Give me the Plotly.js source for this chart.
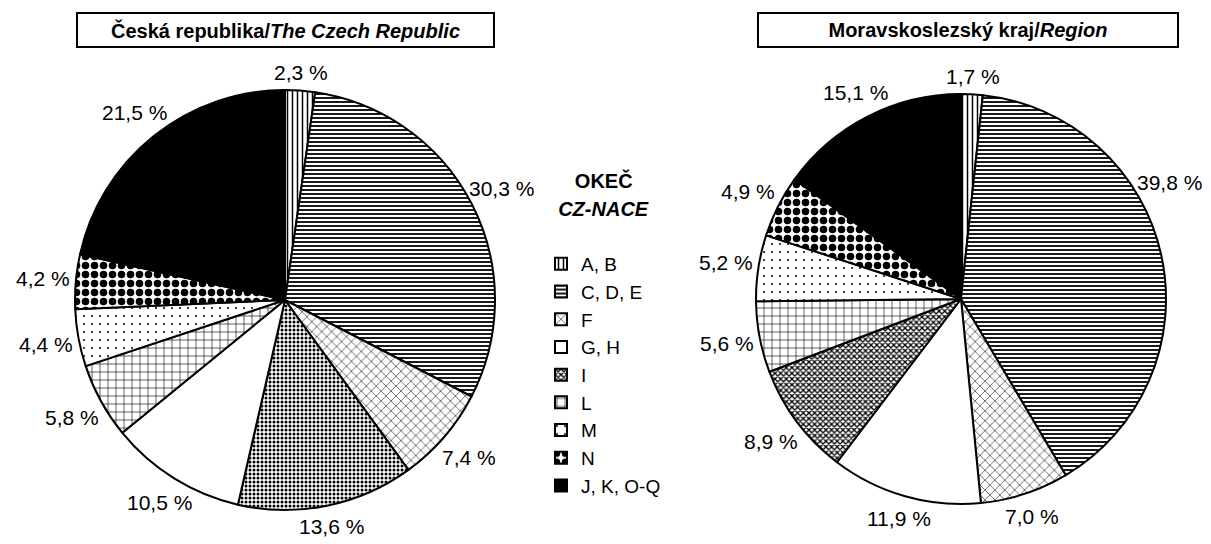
<!DOCTYPE html>
<html>
<head>
<meta charset="utf-8">
<script src="https://cdn.plot.ly/plotly-3.0.1.min.js"></script>
<style>
  body { margin: 0; background: #fff; }
  #chart { width: 1211px; height: 544px; }
</style>
</head>
<body>
<div id="chart"></div>
<script>
// Moravskoslezsky kraj (slice order as drawn)
var labelsRegion = ["A, B", "C, D, E", "F", "G, H", "I", "L", "M", "N", "J, K, O-Q"];
var valuesRegion = [1.7, 39.8, 7.0, 11.9, 8.9, 5.6, 5.2, 4.9, 15.1];

// Ceska republika (slice order as drawn)
var labelsCR = ["A, B", "C, D, E", "F", "I", "G, H", "L", "M", "N", "J, K, O-Q"];
var valuesCR = [2.3, 30.3, 7.4, 13.6, 10.5, 5.8, 4.4, 4.2, 21.5];

var W = 1211, H = 544;
var font = "Liberation Sans, Arial, sans-serif";

// fill style per category
var styles = {
  "A, B":      {shape: "|", size: 5, solidity: 0.3, bg: "white"},
  "C, D, E":   {shape: "-", size: 4, solidity: 0.45, bg: "white"},
  "F":         {shape: "x", size: 7, solidity: 0.15, bg: "white"},
  "G, H":      {shape: "", size: 8, solidity: 0.3, bg: "white"},
  "I":         {shape: "x", size: 4, solidity: 0.55, bg: "white"},
  "L":         {shape: "+", size: 8, solidity: 0.15, bg: "white"},
  "M":         {shape: ".", size: 8, solidity: 0.05, bg: "white"},
  "N":         {shape: ".", size: 9, solidity: 0.55, bg: "white"},
  "J, K, O-Q": {shape: "", size: 8, solidity: 0.3, bg: "black"}
};

function marker(labels, override) {
  var sh = [], sz = [], so = [], bg = [];
  labels.forEach(function (l) {
    var s = (override && override[l]) || styles[l];
    sh.push(s.shape); sz.push(s.size); so.push(s.solidity); bg.push(s.bg);
  });
  return {
    colors: bg,
    line: {color: "black", width: 2},
    pattern: {shape: sh, size: sz, solidity: so, fgcolor: "black", bgcolor: bg, fillmode: "replace"}
  };
}

// pie placement in pixels
var pies = [
  {labels: labelsRegion, values: valuesRegion, cx: 961, cy: 299, r: 205},
  {labels: labelsCR, values: valuesCR, cx: 285, cy: 300, r: 210,
   override: {"I": {shape: ".", size: 4, solidity: 0.45, bg: "white"}}}
];

var traces = [];
var labelNotes = [];
var halfW = 42;

pies.forEach(function (p) {
  traces.push({
    type: "pie",
    labels: p.labels,
    values: p.values,
    sort: false,
    direction: "clockwise",
    rotation: 0,
    domain: {x: [(p.cx - p.r) / W, (p.cx + p.r) / W], y: [1 - (p.cy + p.r) / H, 1 - (p.cy - p.r) / H]},
    marker: marker(p.labels, p.override),
    textinfo: "none",
    hoverinfo: "none"
  });

  // percentage labels around the pie, at each slice's mid angle
  var total = p.values.reduce(function (a, b) { return a + b; }, 0);
  var cum = 0;
  p.values.forEach(function (v) {
    var th = 2 * Math.PI * (cum + v / 2) / total;
    cum += v;
    var R = p.r + 6 + 26 * Math.abs(Math.sin(th)) + 10 * Math.abs(Math.cos(th));
    var x = p.cx + R * Math.sin(th);
    // slide a label that would run off the page back along the circle
    if (x > W - halfW) {
      var a = Math.asin((W - halfW - p.cx) / R);
      th = th < Math.PI / 2 ? a : Math.PI - a;
      x = p.cx + R * Math.sin(th);
    }
    var y = p.cy - R * Math.cos(th);
    labelNotes.push({
      xref: "paper", yref: "paper", x: x / W, y: 1 - y / H,
      xanchor: "center", yanchor: "middle", showarrow: false,
      text: v.toFixed(1).replace(".", ",") + " %",
      font: {family: font, size: 21, color: "black"}
    });
  });
});

var layout = {
  width: W,
  height: H,
  margin: {l: 0, r: 0, t: 0, b: 0},
  paper_bgcolor: "white",
  font: {family: font, size: 19, color: "black"},
  showlegend: true,
  legend: {
    x: 541 / W, xanchor: "left",
    y: 0.70 + 4 / H, yanchor: "top",
    font: {family: font, size: 19, color: "black"},
    title: {
      text: "<span style='font-size:20px'>&nbsp;&nbsp;&nbsp;<b>OKEČ</b></span><br>" +
            "<span style='font-size:20px'><b><i>CZ-NACE</i></b></span><br> ",
      side: "top center",
      font: {family: font, size: 22}
    },
    traceorder: "normal"
  },
  annotations: [
    {
      xref: "paper", yref: "paper", x: 285 / W, y: 1 - 30 / H,
      xanchor: "center", yanchor: "middle",
      text: "<b>Česká republika/<i>The Czech Republic</i></b>",
      showarrow: false, width: 411, height: 28, borderpad: 2,
      bordercolor: "black", borderwidth: 2,
      font: {family: font, size: 20, color: "black"}
    },
    {
      xref: "paper", yref: "paper", x: 968 / W, y: 1 - 30 / H,
      xanchor: "center", yanchor: "middle",
      text: "<b>Moravskoslezský kraj/<i>Region</i></b>",
      showarrow: false, width: 414, height: 28, borderpad: 2,
      bordercolor: "black", borderwidth: 2,
      font: {family: font, size: 20, color: "black"}
    }
  ].concat(labelNotes)
};

Plotly.newPlot("chart", traces, layout, {displayModeBar: false, staticPlot: true});
</script>
</body>
</html>
